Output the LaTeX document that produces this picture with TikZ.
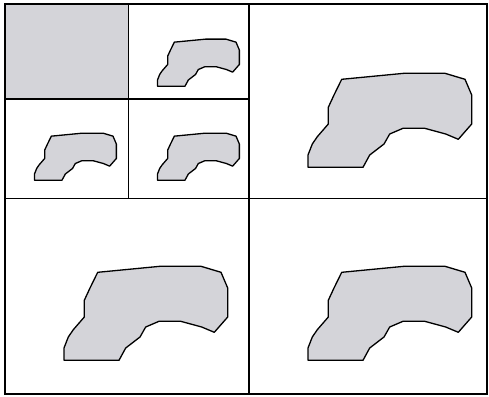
\documentclass[tikz,border=0pt]{standalone}
\definecolor{blobgray}{RGB}{212,212,217}
\newcommand{\drawblob}[1]{\draw[blob,#1] (92.7,74.3) -- (155,68.3) -- (196,68.3) -- (216,74.3) -- (222.7,90) -- (222.7,119) -- (209.3,134.3) -- (196.7,129) -- (175.7,123.3) -- (154,123.3) -- (140.7,129) -- (135,139) -- (120.7,150) -- (114,162.3) -- (59,162.3) -- (59,150) -- (63.3,139) -- (68.3,131.7) -- (79.3,119) -- (79.3,102.3) -- (85,90) -- cycle;}
\begin{document}
\begin{tikzpicture}[x=1pt,y=-1pt,
  grid/.style={line width=1.6pt},
  blob/.style={draw, fill=blobgray, line width=1.3pt, line join=round}]
\useasboundingbox (0,0) rectangle (489,396);
\fill[blobgray] (5,4) rectangle (128.5,99);
\foreach \cx/\cy/\s in {249/5/1, 5/198/1, 249/198/1, 128/5/0.5, 5/99/0.5, 128/99/0.5}
  \drawblob{shift={(\cx,\cy)}, scale=\s}
\draw[grid] (5,4) rectangle (487,394);
\draw[grid] (249,4) -- (249,394);
\draw[grid] (5,198.5) -- (487,198.5);
\draw[grid] (128.5,4) -- (128.5,198.5);
\draw[grid] (5,99) -- (249,99);
\end{tikzpicture}
\end{document}
